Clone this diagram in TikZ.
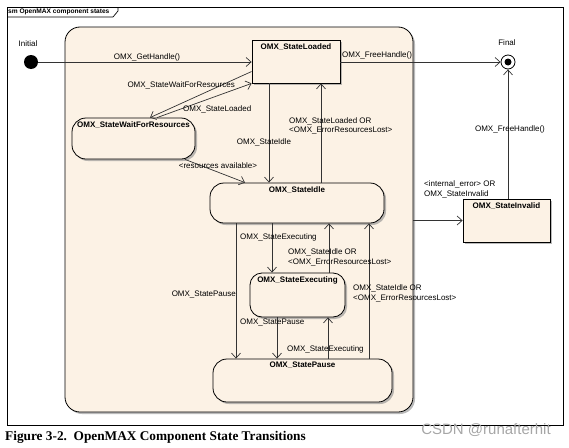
\documentclass[tikz,border=0pt]{standalone}
\usepackage{fontspec}
\setmainfont{Liberation Sans}
\newfontfamily\capfont{Liberation Serif}
\usetikzlibrary{arrows.meta,shadows}
\definecolor{stfill}{RGB}{252,242,229}
\tikzset{
  stshadow/.style={drop shadow={shadow xshift=2pt,shadow yshift=-2pt,fill=black!45,opacity=.6}},
  stbox/.style={draw, line width=.8pt, fill=stfill, rounded corners=14pt, stshadow, inner sep=0pt,
    label={[anchor=north, yshift=-3.5pt, inner sep=0pt, font=\fontsize{8}{9.5}\selectfont\bfseries]north:#1}},
  sqbox/.style={stbox=#1, sharp corners},
  trans/.style={draw=black!80, line width=.7pt, -{Straight Barb[length=5pt,width=9pt]}},
  lbl/.style={inner sep=0pt, font=\fontsize{8}{9.5}\selectfont, align=left},
}

\begin{document}
\begin{tikzpicture}[x=1pt,y=-1pt]
\useasboundingbox (0,0) rectangle (569,447);
% frame
\draw[line width=.7pt] (7,7) rectangle (563,425);
\draw[line width=.7pt] (7,17) -- (113,17) -- (118,11) -- (118,7);
\node[lbl, anchor=west, font=\fontsize{6.6}{8}\selectfont\bfseries] (frm) at (8,12) {sm OpenMAX component states};
%
\node[draw, line width=.8pt, fill=stfill, rounded corners=15pt, stshadow,
  minimum width=348pt, minimum height=385pt] (comp) at (239,219.5) {};
%
\node[sqbox={OMX\_StateLoaded}, minimum width=88pt, minimum height=43pt] (loaded) at (296,61.5) {};
\node[stbox={OMX\_StateWaitForResources}, minimum width=123pt, minimum height=41pt] (wait) at (133.5,138.5) {};
\node[stbox={OMX\_StateIdle}, minimum width=174pt, minimum height=40pt] (idle) at (297,203) {};
\node[stbox={OMX\_StateExecuting}, minimum width=95pt, minimum height=44pt, rounded corners=12pt] (exec) at (297.5,295) {};
\node[stbox={OMX\_StatePause}, minimum width=179pt, minimum height=43pt] (pause) at (302.5,380.5) {};
\node[sqbox={OMX\_StateInvalid}, minimum width=87pt, minimum height=43pt] (invalid) at (506.5,220.5) {};
%
\node[circle, fill, minimum size=14pt, inner sep=0pt] (init) at (31,62) {};
\node[lbl] (initlbl) at (28,44) {Initial};
\node[circle, draw, line width=.8pt, fill=white, minimum size=14pt, inner sep=0pt] (final) at (508,62) {};
\fill (final) circle (3.5pt);
\node[lbl] (finallbl) at (507,43) {Final};
% transitions
\draw[trans] (init) -- (loaded.west |- init);
\draw[trans] (loaded.east |- final) -- (final);
\draw[trans] (invalid.north -| final) -- (final);
\draw[trans] (comp.east |- invalid.west) -- (invalid.west);
\draw[trans] ([yshift=-10pt]loaded.west) -- (wait.north -| 150,0);
\draw[trans] (wait.north -| 157,0) -- (loaded.south west);
\draw[trans] (wait.south -| 185,0) -- (idle.north -| 245,0);
\draw[trans] (loaded.south -| 269,0) -- (idle.north -| 269,0);
\draw[trans] (idle.north -| 321,0) -- (loaded.south -| 321,0);
\draw[trans] (idle.south -| 272,0) -- (exec.north -| 272,0);
\draw[trans] (exec.north -| 329,0) -- (idle.south -| 329,0);
\draw[trans] (idle.south -| 236,0) -- (pause.north -| 236,0);
\draw[trans] (exec.south -| 277,0) -- (pause.north -| 277,0);
\draw[trans] (pause.north -| 328,0) -- (exec.south -| 328,0);
\draw[trans] (pause.north -| 369,0) -- (idle.south -| 369,0);
% labels
\node[lbl] (gethandle) at (147,57) {OMX\_GetHandle()};
\node[lbl, anchor=west] (freeA) at (342,55) {OMX\_FreeHandle()};
\node[lbl] (freeB) at (510,129) {OMX\_FreeHandle()};
\node[lbl, anchor=west] (toinvalid) at (424,189.5) {<internal\_error> OR\\OMX\_StateInvalid};
\node[lbl, anchor=east] (towait) at (235,85) {OMX\_StateWaitForResources};
\node[lbl, anchor=west] (waitback) at (183,109) {OMX\_StateLoaded};
\node[lbl] (resavail) at (218,166) {<resources available>};
\node[lbl] (toidle) at (264,142) {OMX\_StateIdle};
\node[lbl, anchor=west] (idleback) at (289,126) {OMX\_StateLoaded OR\\<OMX\_ErrorResourcesLost>};
\node[lbl, anchor=west] (toexec) at (240,237) {OMX\_StateExecuting};
\node[lbl, anchor=west] (execback) at (288,257.5) {OMX\_StateIdle OR\\<OMX\_ErrorResourcesLost>};
\node[lbl, anchor=east] (topause) at (236,294) {OMX\_StatePause};
\node[lbl, anchor=west] (execpause) at (240,322) {OMX\_StatePause};
\node[lbl, anchor=west] (pauseexec) at (287,349) {OMX\_StateExecuting};
\node[lbl, anchor=west] (pauseidle) at (353,293.5) {OMX\_StateIdle OR\\<OMX\_ErrorResourcesLost>};
% caption
\node[anchor=west, inner sep=0pt, font=\capfont\bfseries\fontsize{13.3}{15}\selectfont] (cap) at (5,437)
  {Figure 3-2.\ \ OpenMAX Component State Transitions};
\node[inner sep=0pt, text=black!35, font=\fontsize{15}{17}\selectfont] (wm) at (486,430) {CSDN @runafterhit};
\end{tikzpicture}
\end{document}
